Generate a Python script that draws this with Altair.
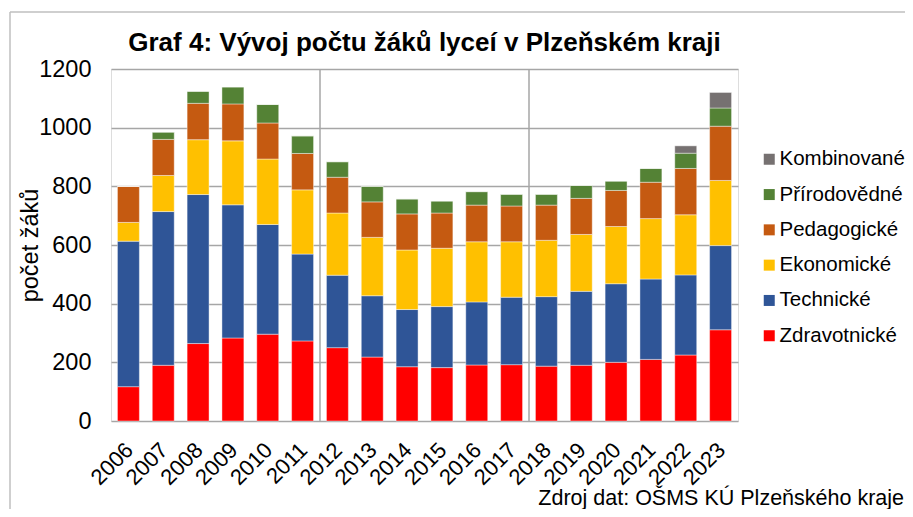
import altair as alt
import pandas as pd

years = ["2006", "2007", "2008", "2009", "2010", "2011", "2012", "2013", "2014",
         "2015", "2016", "2017", "2018", "2019", "2020", "2021", "2022", "2023"]

zdravotnicke = [117, 190, 264, 283, 296, 273, 250, 218, 185, 182, 191, 192, 187, 190, 200, 210, 225, 311]
technicke = [496, 524, 508, 454, 374, 296, 247, 209, 195, 208, 215, 230, 237, 252, 268, 274, 273, 287]
ekonomicke = [64, 123, 187, 218, 223, 219, 212, 199, 203, 199, 205, 189, 192, 194, 195, 206, 205, 222]
pedagogicke = [123, 123, 124, 126, 123, 124, 122, 121, 123, 120, 125, 122, 120, 123, 123, 124, 158, 185]
prirodovedne = [0, 25, 41, 58, 63, 60, 53, 53, 51, 41, 46, 40, 37, 44, 32, 47, 52, 62]
kombinovane = [0, 0, 0, 0, 0, 0, 0, 0, 0, 0, 0, 0, 0, 0, 0, 0, 25, 53]

series_names = ["Zdravotnické", "Technické", "Ekonomické", "Pedagogické", "Přírodovědné", "Kombinované"]
series_values = [zdravotnicke, technicke, ekonomicke, pedagogicke, prirodovedne, kombinovane]
series_colors = ["#FF0000", "#2F5597", "#FFC000", "#C55A11", "#548235", "#767171"]

divider_years = ["2012", "2018"]
y_ticks = [0, 200, 400, 600, 800, 1000, 1200]

title_text = "Graf 4: Vývoj počtu žáků lyceí v Plzeňském kraji"
y_title = "počet žáků"
source_text = "Zdroj dat: OŠMS KÚ Plzeňského kraje"

FONT = "Liberation Sans"
GRID = "#A6A6A6"

rows = []
for i, (name, vals) in enumerate(zip(series_names, series_values)):
    for y, v in zip(years, vals):
        rows.append({"rok": y, "obor": name, "pocet": v, "poradi": i})
df = pd.DataFrame(rows)

x_scale = alt.Scale(domain=years, paddingInner=0, paddingOuter=0)

bars = alt.Chart(df).mark_bar(
    width=alt.RelativeBandSize(0.63), stroke="white", strokeWidth=0.6, strokeOpacity=0.7
).encode(
    x=alt.X("rok:N", scale=x_scale, sort=years,
            axis=alt.Axis(title=None, labelAngle=-45, labelFontSize=22, labelPadding=18,
                          labelOffset=-6, ticks=False, domain=False, grid=False,
                          labelColor="black", labelFont=FONT)),
    y=alt.Y("pocet:Q", stack="zero",
            scale=alt.Scale(domain=[0, 1200], nice=False),
            axis=alt.Axis(title=y_title, values=y_ticks, format="d", labelFontSize=23.5,
                          labelPadding=20, ticks=False, domain=False, grid=True,
                          gridColor=GRID, gridWidth=1.5,
                          titleFontSize=23.5, titleFontWeight="normal",
                          titleX=-81, titleY=176, titleAngle=-90, titleAlign="center",
                          titleBaseline="middle",
                          labelColor="black", titleColor="black", labelFont=FONT, titleFont=FONT)),
    color=alt.Color("obor:N",
                    scale=alt.Scale(domain=series_names[::-1], range=series_colors[::-1]),
                    legend=alt.Legend(title=None, orient="none", legendX=648, legendY=80,
                                      symbolType="square", symbolSize=121, symbolStrokeWidth=0,
                                      labelFontSize=20.5, labelFont=FONT, labelColor="black",
                                      rowPadding=14.3, labelOffset=0)),
    order=alt.Order("poradi:Q", sort="ascending"),
)

dividers = alt.Chart(pd.DataFrame({"rok": divider_years})).mark_rule(
    color=GRID, strokeWidth=1.5
).encode(
    x=alt.X("rok:N", scale=x_scale, sort=years, bandPosition=0),
    y=alt.value(0),
    y2=alt.value(352),
)

title = alt.Chart(pd.DataFrame({"t": [title_text]})).mark_text(
    align="center", baseline="alphabetic", fontSize=26, fontWeight="bold", font=FONT, color="black"
).encode(x=alt.value(313.5), y=alt.value(-18), text="t:N")

source = alt.Chart(pd.DataFrame({"t": [source_text]})).mark_text(
    align="right", baseline="alphabetic", fontSize=21.5, font=FONT, color="black"
).encode(x=alt.value(793), y=alt.value(436), text="t:N")

frame_df = pd.DataFrame({"k": [1]})
border_left = alt.Chart(frame_df).mark_rule(color="#BFBFBF", strokeWidth=1.5).encode(
    x=alt.value(-101), y=alt.value(-57), y2=alt.value(460))
border_top = alt.Chart(frame_df).mark_rule(color="#BFBFBF", strokeWidth=1.5).encode(
    x=alt.value(-101), x2=alt.value(820), y=alt.value(-57))

chart = alt.layer(bars, dividers, title, source, border_left, border_top).properties(
    width=627,
    height=352,
    autosize=alt.AutoSizeParams(type="none"),
    padding={"left": 103, "top": 61, "right": 167, "bottom": 88},
).configure_view(
    stroke=GRID, strokeWidth=2
).configure(background="white")

chart.save("out.html", embed_options={"renderer": "svg", "actions": False})
